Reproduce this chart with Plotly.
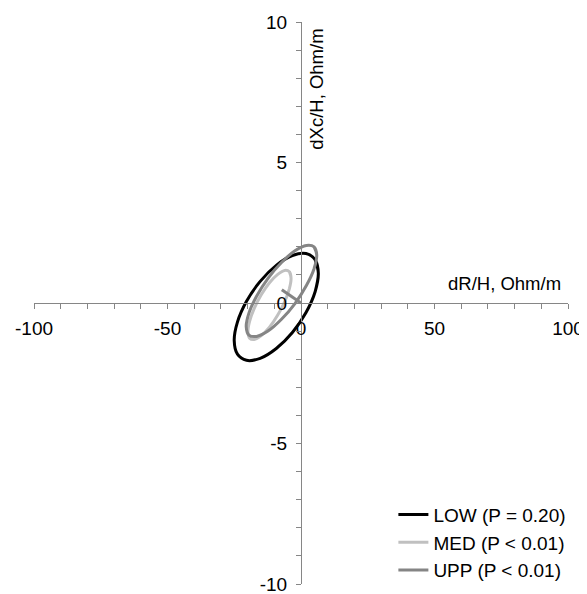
import plotly.graph_objects as go

# ---- outline points (dR/H, dXc/H in Ohm/m) ----
low_x = [6.49, 5.29, 1.88, -3.23, -9.26, -15.29, -20.40, -23.81,
         -25.01, -23.81, -20.40, -15.29, -9.26, -3.23, 1.88, 5.29]
low_y = [1.06, 0.40, -0.34, -1.05, -1.62, -1.97, -2.04, -1.82,
         -1.34, -0.68, 0.06, 0.77, 1.34, 1.69, 1.76, 1.54]

med_x = [-3.73, -4.34, -6.09, -8.71, -11.80, -14.89, -17.51, -19.26,
         -19.87, -19.26, -17.51, -14.89, -11.80, -8.71, -6.09, -4.34]
med_y = [0.88, 0.51, 0.05, -0.43, -0.86, -1.16, -1.30, -1.25,
         -1.02, -0.65, -0.19, 0.29, 0.72, 1.02, 1.16, 1.11]

upp_x = [5.89, 4.89, 2.02, -2.26, -7.31, -12.36, -16.64, -19.51,
         -20.51, -19.51, -16.64, -12.36, -7.31, -2.26, 2.02, 4.89]
upp_y = [1.71, 1.22, 0.62, -0.02, -0.58, -1.00, -1.19, -1.14,
         -0.85, -0.36, 0.24, 0.88, 1.44, 1.86, 2.05, 2.00]

upp_mean_x = [0, -7.2]
upp_mean_y = [0, 0.47]

names = ["LOW (P = 0.20)", "MED (P < 0.01)", "UPP (P < 0.01)"]
colors = ["#000000", "#c0c0c0", "#858585"]

x_ticks = [-100, -50, 0, 50, 100]
y_ticks = [-10, -5, 0, 5, 10]

FONT = "Arial, Liberation Sans, sans-serif"


def closed(v):
    # wrap the outline so the spline closes smoothly
    return [v[-1]] + list(v) + [v[0], v[1]]


fig = go.Figure()
for i, (xs, ys) in enumerate([(low_x, low_y), (med_x, med_y), (upp_x, upp_y)]):
    fig.add_trace(go.Scatter(
        x=closed(xs), y=closed(ys), mode="lines", name=names[i],
        line=dict(color=colors[i], width=3, shape="spline", smoothing=1.0),
        legendgroup=names[i], hoverinfo="skip"))

fig.add_trace(go.Scatter(
    x=upp_mean_x, y=upp_mean_y, mode="lines", showlegend=False,
    line=dict(color=colors[2], width=3), hoverinfo="skip"))

axis_col = "#868686"
fig.update_layout(
    width=587, height=594,
    # the page body adds an 8px offset; margins compensate for it
    margin=dict(l=26, r=27, t=14, b=16),
    paper_bgcolor="white", plot_bgcolor="white",
    font=dict(family=FONT, size=19, color="#000000"),
    xaxis=dict(range=[-100, 100], anchor="free", position=0.5, automargin=False,
               showline=True, linecolor=axis_col, linewidth=1,
               ticks="outside", ticklen=5, tickcolor=axis_col, tickwidth=1,
               tickvals=x_ticks, ticktext=[str(v) for v in x_ticks],
               minor=dict(dtick=10, ticks="outside", ticklen=5, tickcolor=axis_col, showgrid=False),
               showgrid=False, zeroline=False, ticklabelstandoff=3,
               tickfont=dict(size=19, family=FONT, color="#000")),
    yaxis=dict(range=[-10, 10], anchor="free", position=0.5, automargin=False,
               showline=True, linecolor=axis_col, linewidth=1,
               ticks="outside", ticklen=5, tickcolor=axis_col, tickwidth=1,
               tickvals=y_ticks, ticktext=[str(v) for v in y_ticks],
               minor=dict(dtick=1, ticks="outside", ticklen=5, tickcolor=axis_col, showgrid=False),
               showgrid=False, zeroline=False, ticklabelstandoff=5,
               tickfont=dict(size=19, family=FONT, color="#000")),
    legend=dict(x=0.673, y=0.157, xanchor="left", yanchor="top",
                bgcolor="rgba(0,0,0,0)", font=dict(size=19, family=FONT),
                itemwidth=30, tracegroupgap=0),
    showlegend=True,
)

fig.add_annotation(x=98.3, y=0.25, xref="x", yref="y", text="dR/H, Ohm/m",
                   showarrow=False, xanchor="right", yanchor="bottom",
                   font=dict(size=18.5, family=FONT))
fig.add_annotation(x=1.0, y=9.82, xref="x", yref="y", text="dXc/H, Ohm/m",
                   showarrow=False, xanchor="left", yanchor="top", textangle=-90,
                   font=dict(size=18.5, family=FONT))

fig.write_html("out.html")
